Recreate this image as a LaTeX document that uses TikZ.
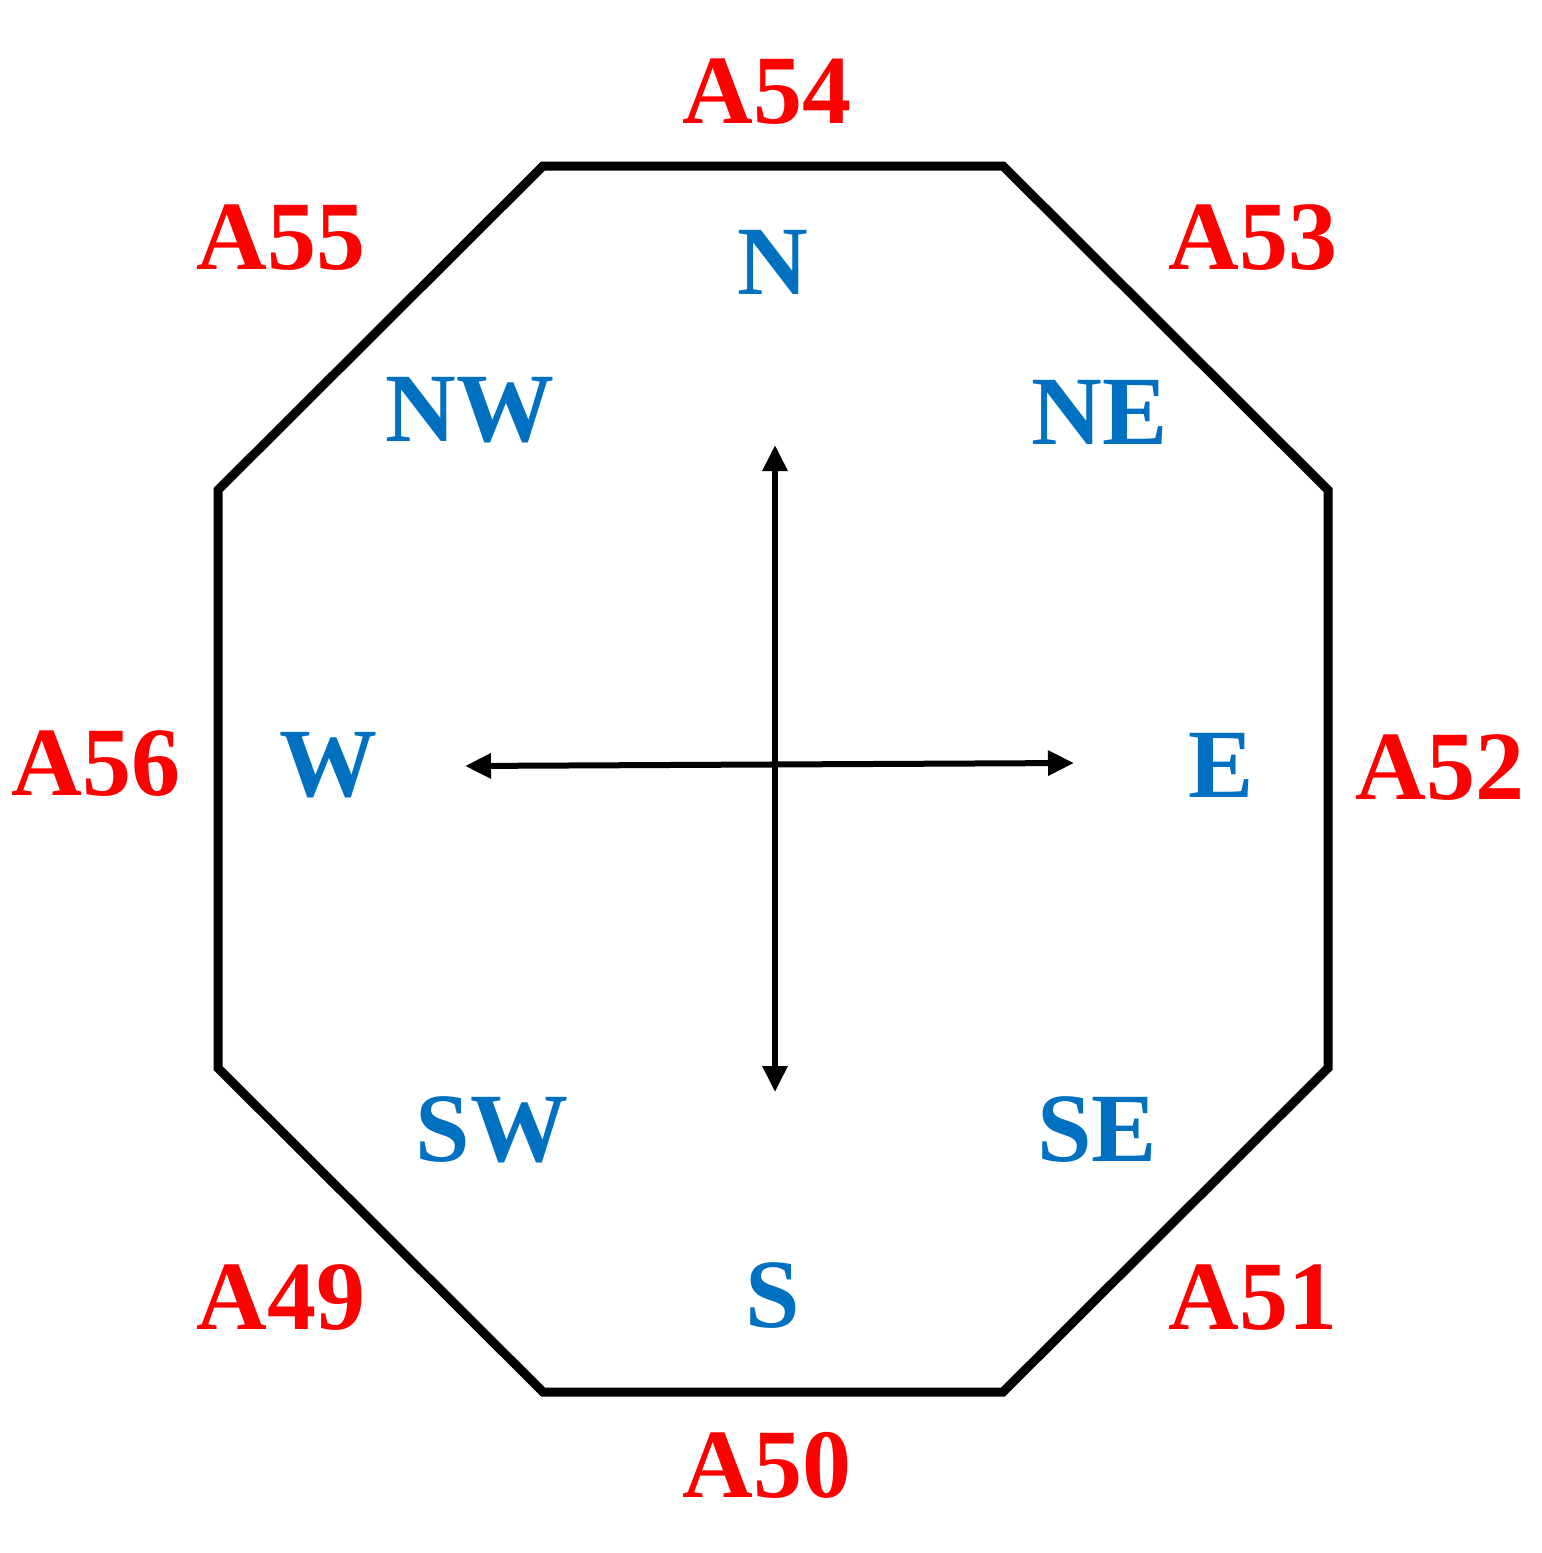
\documentclass[tikz,border=0pt]{standalone}
\usepackage{fontspec}
\newfontfamily\lbf{Liberation Serif Bold}
\usetikzlibrary{arrows.meta}
\definecolor{lblred}{RGB}{255,0,0}
\definecolor{dirblue}{RGB}{0,112,192}
\tikzset{
  areal/.style={text=lblred, font=\lbf\fontsize{98}{100}\selectfont, inner sep=0pt},
  dirl/.style={text=dirblue, font=\lbf\fontsize{98}{100}\selectfont, inner sep=0pt},
  octo/.style={draw=black, line width=9pt, line join=miter},
  axis/.style={draw=black, line width=6pt, {Triangle[length=26pt,width=24pt]}-{Triangle[length=26pt,width=24pt]}}
}
\begin{document}
\begin{tikzpicture}[x=1pt,y=-1pt]
\useasboundingbox (0,0) rectangle (1542,1553);
% octagon
\coordinate (v1) at (543,166);
\coordinate (v2) at (1003,166);
\coordinate (v3) at (1328,490);
\coordinate (v4) at (1328,1068);
\coordinate (v5) at (1003,1392);
\coordinate (v6) at (543,1392);
\coordinate (v7) at (218,1068);
\coordinate (v8) at (218,490);
\draw[octo] (v1) -- (v2) -- (v3) -- (v4) -- (v5) -- (v6) -- (v7) -- (v8) -- cycle;
% arrows
\coordinate (ntip) at (775,445);
\coordinate (stip) at (775,1092);
\coordinate (wtip) at (465,766);
\coordinate (etip) at (1074,763);
\draw[axis] (stip) -- (ntip);
\draw[axis] (wtip) -- (etip);
% area labels
\node[areal] (a54) at (767,92) {A54};
\node[areal] (a55) at (281,238) {A55};
\node[areal] (a53) at (1253,238) {A53};
\node[areal] (a56) at (96,764) {A56};
\node[areal] (a52) at (1440,768) {A52};
\node[areal] (a49) at (281,1298) {A49};
\node[areal] (a50) at (767,1465) {A50};
\node[areal] (a51) at (1253,1298) {A51};
% direction labels
\node[dirl] (n) at (773,262) {N};
\node[dirl] (nw) at (470,410) {NW};
\node[dirl] (ne) at (1100,412) {NE};
\node[dirl] (w) at (328,765) {W};
\node[dirl] (e) at (1221,765) {E};
\node[dirl] (sw) at (492,1130) {SW};
\node[dirl] (se) at (1097,1130) {SE};
\node[dirl] (s) at (773,1296) {S};
\end{tikzpicture}
\end{document}
